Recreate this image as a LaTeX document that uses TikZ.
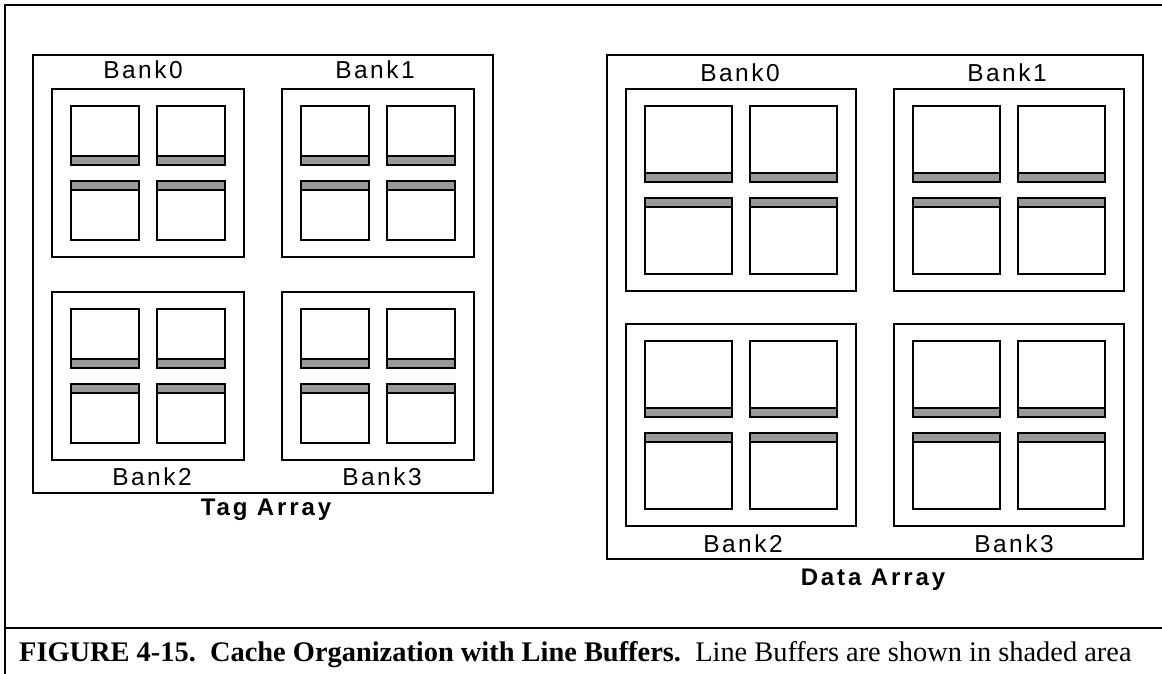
\documentclass[tikz,border=0pt]{standalone}
\usepackage{fontspec}
\setmainfont{Liberation Serif}
\newfontfamily\labfont[LetterSpace=10]{Liberation Sans}
\newfontfamily\titlefont[LetterSpace=12]{Liberation Sans Bold}
\definecolor{buffergray}{HTML}{999999}

% One cache bank: #1,#2 top-left corner, #3 width, #4 height,
% #5 sub-array width, #6 sub-array height. Each sub-array carries a
% shaded line buffer on the side facing the middle of the bank.
\newcommand\cachebank[6]{%
  \begin{scope}[shift={(#1,#2)}]
    \draw[bankbox] (0,0) rectangle (#3,#4);
    \foreach \cx in {19, 37+#5} {
      \draw[subarray] (\cx,17) rectangle ++(#5,#6);
      \draw[linebuf] (\cx,17+#6-9) rectangle ++(#5,9);
      \draw[subarray] (\cx,33+#6) rectangle ++(#5,#6);
      \draw[linebuf] (\cx,33+#6) rectangle ++(#5,9);
    }
  \end{scope}}

\begin{document}
\begin{tikzpicture}[x=1pt,y=-1pt,
  frameline/.style={line width=2.4pt},
  arraybox/.style={draw, line width=1.1pt},
  bankbox/.style={draw, line width=1.2pt},
  subarray/.style={draw, fill=white, line width=1.4pt},
  linebuf/.style={draw, fill=buffergray, line width=1.4pt},
  banklabel/.style={font=\labfont\fontsize{24.5}{24.5}\selectfont, inner sep=0pt, anchor=base},
  arraylabel/.style={font=\titlefont\fontsize{24}{24}\selectfont, inner sep=0pt, anchor=base},
  caption/.style={font=\fontsize{28.4}{28.4}\selectfont, inner sep=0pt, anchor=base west}]

\useasboundingbox (0,0) rectangle (1162,674);

% page frame and caption rule
\draw[frameline] (5,674) -- (5,5) -- (1162,5);
\draw[line width=2pt] (5,628) -- (1162,628);

% tag array
\draw[arraybox] (33,55) rectangle (493,493);
\cachebank{52}{89}{192}{168}{68}{59}
\cachebank{282}{89}{192}{168}{68}{59}
\cachebank{52}{292}{192}{168}{68}{59}
\cachebank{282}{292}{192}{168}{68}{59}
\node[banklabel] (tb0) at (143,79) {Bank0};
\node[banklabel] (tb1) at (375,79) {Bank1};
\node[banklabel] (tb2) at (152,485) {Bank2};
\node[banklabel] (tb3) at (382,485) {Bank3};
\node[arraylabel] (tag) at (266,515) {Tag Array};

% data array
\draw[arraybox] (607,55) rectangle (1143,559);
\cachebank{626}{89}{230}{202}{87}{76}
\cachebank{894}{89}{230}{202}{87}{76}
\cachebank{626}{324}{230}{202}{87}{76}
\cachebank{894}{324}{230}{202}{87}{76}
\node[banklabel] (db0) at (740,82) {Bank0};
\node[banklabel] (db1) at (1007,82) {Bank1};
\node[banklabel] (db2) at (743,552) {Bank2};
\node[banklabel] (db3) at (1014,552) {Bank3};
\node[arraylabel] (data) at (873,585) {Data Array};

% caption
\node[caption] (cap) at (19,661)
  {\textbf{FIGURE 4-15.\ \ Cache Organization with Line Buffers.}\ \ Line Buffers are shown in shaded area};
\end{tikzpicture}
\end{document}
